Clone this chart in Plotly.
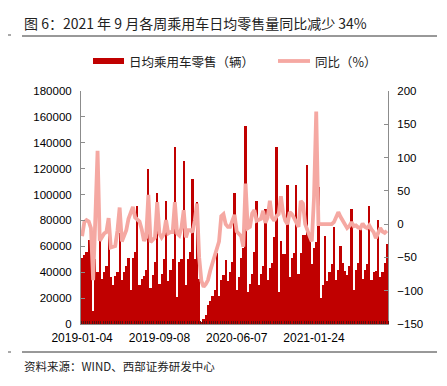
import plotly.graph_objects as go

# Weekly average daily passenger-car retail sales (units)
retail = [
    51000, 53000, 56000, 65000, 68000, 10000, 50000, 40000, 74000, 35000,
    40000, 45000, 72000, 36000, 30000, 37000, 40000, 70000, 34000, 40000,
    45000, 51000, 26000, 51000, 56000, 91000, 30000, 35000, 37000, 42000,
    120000, 28000, 38000, 48000, 101000, 31000, 39000, 50000, 95000, 33000,
    42000, 50000, 137000, 21000, 48000, 50000, 126000, 30000, 50000, 56000,
    112000, 50000, 94000, 35000, 1000, 4000, 7000, 15000, 18000, 22000,
    26000, 54600, 22000, 34000, 38000, 49500, 33000, 40000, 48000, 101000,
    26000, 36500, 51000, 59000, 153000, 25000, 31000, 39000, 56000, 95000,
    30000, 39000, 45000, 89000, 34000, 43000, 47000, 67000, 137000, 25000,
    64000, 54000, 54000, 107000, 36000, 51000, 55000, 107000, 39000, 55000,
    69000, 69000, 123000, 70000, 46000, 59000, 63000, 106000, 20000, 30000,
    68000, 33000, 40000, 46000, 75000, 34000, 42000, 60000, 47000, 41000,
    38000, 45000, 89000, 26000, 42000, 47000, 75000, 35000, 42000, 46000,
    91000, 34000, 40000, 41000, 80000, 36000, 40000, 47000, 62000,
]

# Year-on-year change (%)
yoy = [
    -18, 3, 6, 4, -6, -84, 10, 110, -25, -18,
    -14, -12, 9, -35, -34, -33, -10, 25, -26, -18,
    -9, 8, 18, 26, 10, 6, 4, -8, -25, -20,
    44, -27, -24, -20, 33, -14, -20, -15, 6, -14,
    -12, -12, 33, -14, -17, -5, 21, -20, -9, -9,
    -12, 5, 31, -50, -85, -94, -90, -84, -70, -58,
    -48, -38, -26, 12, 15, 0, -4, -4, 6, 14,
    -11, -14, -18, -34, 61, -6, -4, 16, 21, 5,
    6, 8, 20, 2, 10, 35, 10, 5, 12, 15,
    42, 17, 5, 0, 18, 15, 9, 2, -4, 35,
    31, 0, -11, -18, -26, 40, 169, 0, 0, 0,
    0, 0, 0, 0, 3, 12, 18, 11, 5, 1,
    -6, -3, 3, -3, -2, -5, -6, 1, -4, -6,
    -2, -8, -12, -21, -12, -6, -11, -13, -10,
]

tick_labels = ["2019-01-04", "2019-09-08", "2020-06-07", "2021-01-24"]
tick_index = [0, 35, 70, 105]

bar_name = "日均乘用车零售（辆）"
line_name = "同比（%）"
title_text = "图 6：2021 年 9 月各周乘用车日均零售量同比减少 34%"
source_text = "资料来源：WIND、西部证券研发中心"

BAR_COLOR = "#C00000"
LINE_COLOR = "#F5A8A2"
AXIS_COLOR = "#8c8c8c"
CJK = "Noto Sans CJK SC"
LATIN = "Liberation Sans, Arial, sans-serif"

x = list(range(len(retail)))

fig = go.Figure()
fig.add_trace(go.Bar(
    x=x, y=retail, name=bar_name,
    marker=dict(color=BAR_COLOR, line=dict(width=0)),
    yaxis="y",
))
fig.add_trace(go.Scatter(
    x=x, y=yoy, name=line_name, mode="lines",
    line=dict(color=LINE_COLOR, width=3.8),
    yaxis="y2",
))

# the page body has an 8px default margin, so the figure is 8px smaller
OFF = 8
W, H = 447 - OFF, 386 - OFF
L, R, T, B = 81 - OFF, 59, 91 - OFF, 62
pw, ph = W - L - R, H - T - B


def px(xp):
    return (xp - OFF - L) / pw


def py(yp):
    return (H - B - (yp - OFF)) / ph


fig.update_layout(
    width=W, height=H,
    margin=dict(l=L, r=R, t=T, b=B),
    paper_bgcolor="white", plot_bgcolor="white",
    showlegend=False,
    bargap=0,
    font=dict(family=LATIN, size=11.5, color="#000000"),
    xaxis=dict(
        range=[-0.5, len(retail) - 0.5],
        tickmode="array", tickvals=tick_index, ticktext=tick_labels,
        ticks="", showline=True, linecolor=AXIS_COLOR, linewidth=1,
        showgrid=False, zeroline=False,
        tickfont=dict(size=12, family=LATIN),
        ticklabelstandoff=3,
        minor=dict(ticks="inside", tickmode="linear", tick0=0.5, dtick=1,
                   ticklen=3, tickcolor="#5a1010", showgrid=False),
    ),
    yaxis=dict(
        range=[0, 180000], tickmode="linear", tick0=0, dtick=20000,
        tickformat="d", ticks="inside", ticklen=4, tickcolor=AXIS_COLOR,
        showline=True, linecolor=AXIS_COLOR, linewidth=1,
        showgrid=False, zeroline=False, ticklabelstandoff=6,
    ),
    yaxis2=dict(
        overlaying="y", side="right",
        range=[-150, 200], tickmode="linear", tick0=-150, dtick=50,
        ticks="inside", ticklen=4, tickcolor=AXIS_COLOR,
        showline=True, linecolor=AXIS_COLOR, linewidth=1,
        showgrid=False, zeroline=False, ticklabelstandoff=6,
    ),
)

shapes = [
    # title rule and left marker
    dict(type="line", xref="paper", yref="paper", x0=px(22), x1=px(437),
         y0=py(36), y1=py(36), line=dict(color="#333333", width=1)),
    dict(type="line", xref="paper", yref="paper", x0=px(8), x1=px(11),
         y0=py(35), y1=py(35), line=dict(color="#555555", width=1)),
    # bottom rule and left marker
    dict(type="line", xref="paper", yref="paper", x0=px(22), x1=px(437),
         y0=py(352), y1=py(352), line=dict(color="#333333", width=1)),
    dict(type="line", xref="paper", yref="paper", x0=px(8), x1=px(11),
         y0=py(352), y1=py(352), line=dict(color="#555555", width=1)),
    # legend swatches
    dict(type="rect", xref="paper", yref="paper", x0=px(93), x1=px(124),
         y0=py(64), y1=py(58), fillcolor=BAR_COLOR, line=dict(width=0)),
    dict(type="line", xref="paper", yref="paper", x0=px(278), x1=px(310),
         y0=py(61), y1=py(61), line=dict(color=LINE_COLOR, width=3.8)),
]

annotations = [
    dict(text=title_text, xref="paper", yref="paper", x=px(22), y=py(23),
         xanchor="left", yanchor="middle", showarrow=False,
         font=dict(family=CJK, size=14, color="#222222")),
    dict(text=bar_name, xref="paper", yref="paper", x=px(127), y=py(61),
         xanchor="left", yanchor="middle", showarrow=False,
         font=dict(family=CJK, size=12.5, color="#222222")),
    dict(text=line_name, xref="paper", yref="paper", x=px(313), y=py(61),
         xanchor="left", yanchor="middle", showarrow=False,
         font=dict(family=CJK, size=12.5, color="#222222")),
    dict(text=source_text, xref="paper", yref="paper", x=px(22), y=py(366),
         xanchor="left", yanchor="middle", showarrow=False,
         font=dict(family=CJK, size=11.5, color="#222222")),
]

fig.update_layout(shapes=shapes, annotations=annotations)

fig.write_html("out.html")
